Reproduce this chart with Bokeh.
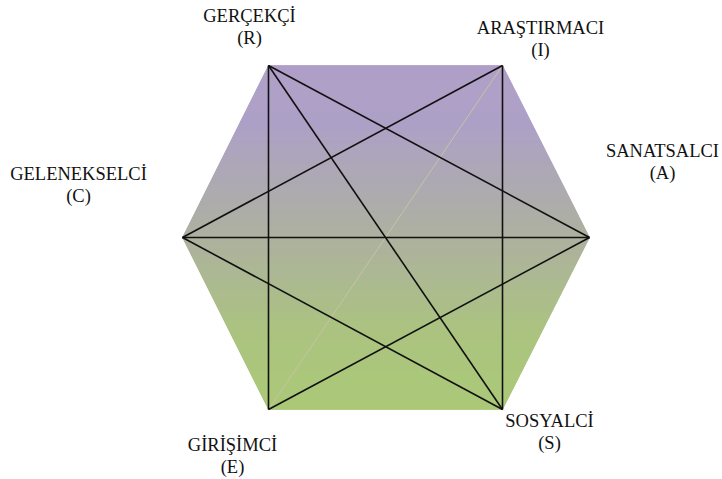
from bokeh.plotting import figure
from bokeh.embed import file_html
from bokeh.resources import INLINE
from bokeh.models import Range1d
from bokeh.core.properties import value

# Vertex names and codes (RIASEC hexagon), in drawing order around the hexagon
codes = ["R", "I", "A", "S", "E", "C"]
names = ["GERÇEKÇİ", "ARAŞTIRMACI", "SANATSALCI", "SOSYALCİ", "GİRİŞİMCİ", "GELENEKSELCİ"]
# vertex positions (chart units, y downward)
vx = [268, 502, 589, 502, 268, 182]
vy = [65, 65, 237, 409, 409, 237]
# label anchor positions (chart units): name baseline
lx = [249, 540, 662, 549, 232, 78]
ly = [15, 27, 150, 420, 444, 173]

# diagonals connecting vertices (by code)
dark_edges = [("R", "E"), ("I", "S"), ("C", "A"), ("R", "A"), ("R", "S"),
              ("I", "C"), ("C", "S"), ("E", "A")]
light_edges = [("I", "E")]

# gradient stops (fraction from top, RGB)
grad_pos = [0.0, 0.18, 0.5, 0.78, 1.0]
grad_rgb = [(174, 158, 200), (172, 160, 197), (172, 176, 158), (170, 195, 126), (169, 200, 118)]

W, H = 722, 479
p = figure(width=W, height=H, output_backend="svg", toolbar_location=None,
           x_range=Range1d(0, W), y_range=Range1d(H, 0), min_border=0)
p.axis.visible = False
p.grid.visible = False
p.outline_line_color = None
p.background_fill_color = "white"
p.border_fill_color = "white"

idx = {c: i for i, c in enumerate(codes)}
top, bot = min(vy), max(vy)
midy = (top + bot) / 2
left_mid, right_mid = min(vx), max(vx)
left_top, right_top = vx[0], vx[1]


def x_extent(y):
    t = abs(y - midy) / (midy - top)
    return left_mid + (left_top - left_mid) * t, right_mid + (right_top - right_mid) * t


def color_at(f):
    for k in range(len(grad_pos) - 1):
        if grad_pos[k] <= f <= grad_pos[k + 1]:
            u = (f - grad_pos[k]) / (grad_pos[k + 1] - grad_pos[k])
            c = [round(a + (b - a) * u) for a, b in zip(grad_rgb[k], grad_rgb[k + 1])]
            return "#%02x%02x%02x" % tuple(c)
    return "#%02x%02x%02x" % grad_rgb[-1]


xs, ys, cols = [], [], []
n = int(bot - top)
step = (bot - top) / n
for k in range(n):
    y0 = top + k * step
    y1 = y0 + step
    pts_y = [y0, y1] if not (y0 < midy < y1) else [y0, midy, y1]
    left = [x_extent(y)[0] for y in pts_y]
    right = [x_extent(y)[1] for y in pts_y]
    xs.append(left + right[::-1])
    ys.append(pts_y + pts_y[::-1])
    cols.append(color_at((y0 + step / 2 - top) / (bot - top)))

p.patches(xs, ys, fill_color=cols, line_color=cols, line_width=0.8)

for a, b in light_edges:
    p.line([vx[idx[a]], vx[idx[b]]], [vy[idx[a]], vy[idx[b]]], line_color="#c9c2a6", line_width=1)
for a, b in dark_edges:
    p.line([vx[idx[a]], vx[idx[b]]], [vy[idx[a]], vy[idx[b]]], line_color="#111111", line_width=1.6)

font = value("Liberation Serif")
p.text(lx, ly, text=names, text_font=font, text_font_size="18.5px", text_align="center",
       text_baseline="alphabetic", text_color="#111111")
p.text(lx, [y + 22 for y in ly], text=["(" + c + ")" for c in codes], text_font=font,
       text_font_size="18.5px", text_align="center", text_baseline="alphabetic", text_color="#111111")

open("out.html", "w").write(file_html(p, INLINE))
